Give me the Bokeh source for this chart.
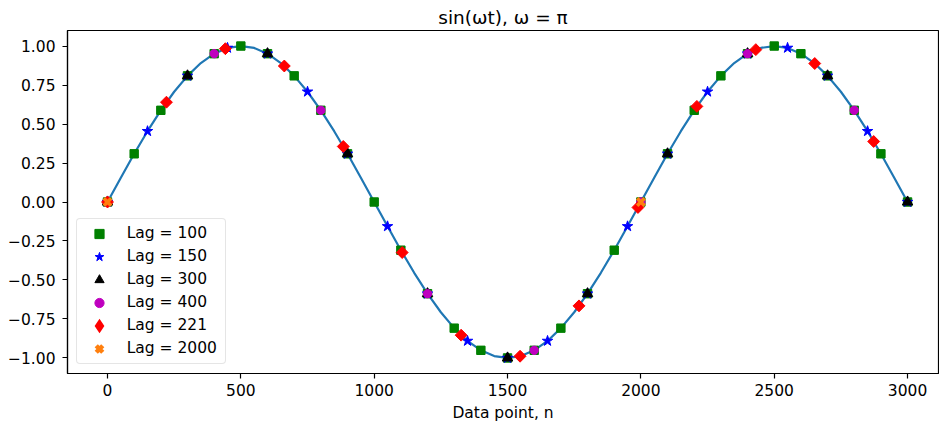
from bokeh.plotting import figure
from bokeh.models import FixedTicker, Range1d, Legend, LegendItem
from bokeh.embed import file_html
from bokeh.resources import INLINE

title_text = "sin(ωt), ω = π"
x_label = "Data point, n"

curve_n = [0, 50, 100, 150, 200, 250, 300, 350, 400, 450, 500, 550, 600, 650, 700, 750,
           800, 850, 900, 950, 1000, 1050, 1100, 1150, 1200, 1250, 1300, 1350, 1400, 1450,
           1500, 1550, 1600, 1650, 1700, 1750, 1800, 1850, 1900, 1950, 2000, 2050, 2100,
           2150, 2200, 2250, 2300, 2350, 2400, 2450, 2500, 2550, 2600, 2650, 2700, 2750,
           2800, 2850, 2900, 2950, 3000]
curve_y = [0.000, 0.156, 0.309, 0.454, 0.588, 0.707, 0.809, 0.891, 0.951, 0.988, 1.000,
           0.988, 0.951, 0.891, 0.809, 0.707, 0.588, 0.454, 0.309, 0.156, 0.000,
           -0.156, -0.309, -0.454, -0.588, -0.707, -0.809, -0.891, -0.951, -0.988, -1.000,
           -0.988, -0.951, -0.891, -0.809, -0.707, -0.588, -0.454, -0.309, -0.156, 0.000,
           0.156, 0.309, 0.454, 0.588, 0.707, 0.809, 0.891, 0.951, 0.988, 1.000,
           0.988, 0.951, 0.891, 0.809, 0.707, 0.588, 0.454, 0.309, 0.156, 0.000]

lag100_n = [0, 100, 200, 300, 400, 500, 600, 700, 800, 900, 1000, 1100, 1200, 1300, 1400,
            1500, 1600, 1700, 1800, 1900, 2000, 2100, 2200, 2300, 2400, 2500, 2600, 2700,
            2800, 2900, 3000]
lag100_y = [0.000, 0.309, 0.588, 0.809, 0.951, 1.000, 0.951, 0.809, 0.588, 0.309, 0.000,
            -0.309, -0.588, -0.809, -0.951, -1.000, -0.951, -0.809, -0.588, -0.309, 0.000,
            0.309, 0.588, 0.809, 0.951, 1.000, 0.951, 0.809, 0.588, 0.309, 0.000]

lag150_n = [0, 150, 300, 450, 600, 750, 900, 1050, 1200, 1350, 1500, 1650, 1800, 1950,
            2100, 2250, 2400, 2550, 2700, 2850, 3000]
lag150_y = [0.000, 0.454, 0.809, 0.988, 0.951, 0.707, 0.309, -0.156, -0.588, -0.891,
            -1.000, -0.891, -0.588, -0.156, 0.309, 0.707, 0.951, 0.988, 0.809, 0.454, 0.000]

lag300_n = [0, 300, 600, 900, 1200, 1500, 1800, 2100, 2400, 2700, 3000]
lag300_y = [0.000, 0.809, 0.951, 0.309, -0.588, -1.000, -0.588, 0.309, 0.951, 0.809, 0.000]

lag400_n = [0, 400, 800, 1200, 1600, 2000, 2400, 2800]
lag400_y = [0.000, 0.951, 0.588, -0.588, -0.951, 0.000, 0.951, 0.588]

lag221_n = [0, 221, 442, 663, 884, 1105, 1326, 1547, 1768, 1989, 2210, 2431, 2652, 2873]
lag221_y = [0.000, 0.640, 0.983, 0.872, 0.356, -0.324, -0.854, -0.989, -0.666, -0.035,
            0.613, 0.977, 0.888, 0.388]

lag2000_n = [0, 2000]
lag2000_y = [0.000, 0.000]

legend_labels = ["Lag = 100", "Lag = 150", "Lag = 300", "Lag = 400", "Lag = 221",
                 "Lag = 2000"]

x_ticks = [0, 500, 1000, 1500, 2000, 2500, 3000]
x_tick_labels = ["0", "500", "1000", "1500", "2000", "2500", "3000"]
y_ticks = [-1.0, -0.75, -0.5, -0.25, 0.0, 0.25, 0.5, 0.75, 1.0]
y_tick_labels = ["\u22121.00", "\u22120.75", "\u22120.50", "\u22120.25", "0.00",
                 "0.25", "0.50", "0.75", "1.00"]

FONT = "DejaVu Sans"

p = figure(width=939, height=425, output_backend="svg", toolbar_location=None,
           x_range=Range1d(-150, 3116), y_range=Range1d(-1.0997, 1.0997),
           min_border_left=67, min_border_right=1, min_border_top=30,
           min_border_bottom=52, title=title_text)

p.background_fill_color = "white"
p.border_fill_color = "white"
p.outline_line_color = "black"
p.outline_line_width = 1.2
p.grid.visible = False

p.title.text_font = FONT
p.title.text_font_size = "18.5px"
p.title.text_font_style = "normal"
p.title.align = "center"
p.title.text_color = "black"
p.title.standoff = 5

for ax in (p.xaxis[0], p.yaxis[0]):
    ax.axis_line_color = "black"
    ax.axis_line_width = 1.2
    ax.major_tick_line_color = "black"
    ax.major_tick_line_width = 1.2
    ax.major_tick_out = 5
    ax.major_tick_in = 0
    ax.minor_tick_line_color = None
    ax.major_label_text_font = FONT
    ax.major_label_text_font_size = "15.5px"
    ax.major_label_text_color = "black"
    ax.axis_label_text_font = FONT
    ax.axis_label_text_font_size = "15.5px"
    ax.axis_label_text_font_style = "normal"
    ax.axis_label_text_color = "black"

p.xaxis.ticker = FixedTicker(ticks=x_ticks)
p.xaxis.major_label_overrides = {t: l for t, l in zip(x_ticks, x_tick_labels)}
p.xaxis.axis_label = x_label
p.xaxis.major_label_standoff = 5
p.xaxis.axis_label_standoff = 5
p.yaxis.ticker = FixedTicker(ticks=y_ticks)
p.yaxis.major_label_overrides = {t: l for t, l in zip(y_ticks, y_tick_labels)}
p.yaxis.major_label_standoff = 7

p.line(curve_n, curve_y, line_color="#1f77b4", line_width=2.2)

r100 = p.scatter(lag100_n, lag100_y, marker="square", size=8.4, fill_color="#008000",
                 line_color="#008000", line_width=1)
r150 = p.scatter(lag150_n, lag150_y, marker="star", size=11, fill_color="#0000ff",
                 line_color="#0000ff", line_width=1)
r300 = p.scatter(lag300_n, lag300_y, marker="triangle", size=10.5, fill_color="black",
                 line_color="black", line_width=1)
r400 = p.scatter(lag400_n, lag400_y, marker="circle", size=8.4, fill_color="#bf00bf",
                 line_color="#bf00bf", line_width=1)
r221 = p.scatter(lag221_n, lag221_y, marker="square", angle=0.785398, size=8.4,
                 fill_color="#ff0000", line_color="#ff0000", line_width=1)
r2000 = p.scatter(lag2000_n, lag2000_y, marker="x", size=10.5, line_color="#ff7f0e",
                  line_width=3.5)
# legend-only swatches (legend ignores marker angle and rescales markers)
r221_key = p.scatter(lag221_n, lag221_y, marker="diamond", size=10,
                     fill_color="#ff0000", line_color="#ff0000", line_width=3,
                     line_join="miter", visible=False)
r2000_key = p.scatter(lag2000_n, lag2000_y, marker="x", size=10, line_color="#ff7f0e",
                      line_width=4.5, visible=False)

legend_renderers = [r100, r150, r300, r400, r221_key, r2000_key]
lg = Legend(items=[LegendItem(label=lab, renderers=[r])
                   for lab, r in zip(legend_labels, legend_renderers)])
p.add_layout(lg, "center")
lg.location = (8.7, 9.5)
lg.label_text_font = FONT
lg.label_text_font_size = "15.5px"
lg.label_text_color = "black"
lg.label_height = 23
lg.glyph_height = 23
lg.glyph_width = 38
lg.label_width = 95
lg.label_standoff = 9
lg.spacing = 0
lg.padding = 3
lg.margin = 0
lg.border_line_color = "#cccccc"
lg.border_line_width = 1
lg.background_fill_color = "white"
lg.background_fill_alpha = 0.8
if "border_radius" in lg.properties():
    lg.border_radius = 4

open("out.html", "w").write(file_html(p, INLINE))
